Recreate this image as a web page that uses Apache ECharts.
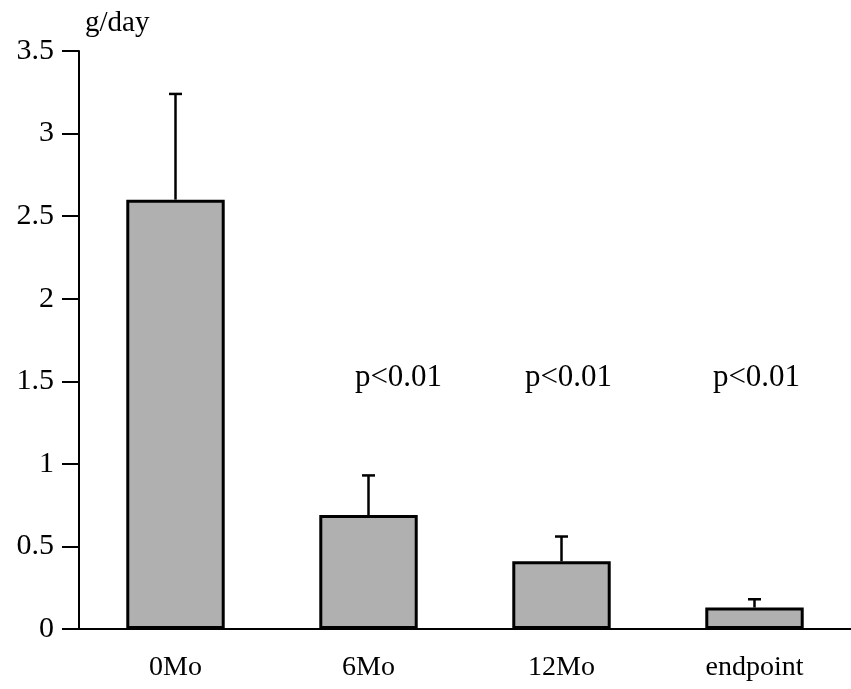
<!DOCTYPE html>
<html>
<head>
<meta charset="utf-8">
<script src="https://cdn.jsdelivr.net/npm/echarts@6/dist/echarts.min.js"></script>
<style>html,body{margin:0;padding:0;background:#fff}#c{width:851px;height:689px}</style>
</head>
<body>
<div id="c"></div>
<script>
const categories = ['0Mo', '6Mo', '12Mo', 'endpoint'];
const means = [2.6, 0.69, 0.41, 0.13];
const errorTops = [3.24, 0.93, 0.56, 0.18];
const pLabels = ['', 'p<0.01', 'p<0.01', 'p<0.01'];
const pLabelY = [null, 1.52, 1.52, 1.52];
const yTicks = { min: 0, max: 3.5, interval: 0.5 };

const pOffsets = [0, 30, 7, 2];
const font = 'Liberation Serif';

const chart = echarts.init(document.getElementById('c'), null, { renderer: 'canvas' });
chart.setOption({
  animation: false,
  backgroundColor: '#fff',
  grid: { left: 79, right: 0, top: 51, bottom: 60 },
  xAxis: {
    type: 'category',
    data: categories,
    boundaryGap: true,
    axisLine: { lineStyle: { color: '#000', width: 2 } },
    axisTick: { length: 18, lineStyle: { color: '#000', width: 2 } },
    axisLabel: { color: '#000', fontFamily: font, fontSize: 28, margin: 25 }
  },
  yAxis: {
    type: 'value',
    min: yTicks.min, max: yTicks.max, interval: yTicks.interval,
    name: 'g/day',
    nameLocation: 'end',
    nameGap: 13,
    nameTextStyle: { color: '#000', fontFamily: font, fontSize: 29, align: 'left', padding: [0, 0, 0, 6] },
    axisLine: { show: true, lineStyle: { color: '#000', width: 2 } },
    axisTick: { show: true, length: 17, lineStyle: { color: '#000', width: 2 } },
    axisLabel: { color: '#000', fontFamily: font, fontSize: 30, margin: 25 },
    splitLine: { show: false }
  },
  series: [
    {
      type: 'bar',
      data: means,
      barWidth: '51%',
      itemStyle: { color: '#b0b0b0', borderColor: '#000', borderWidth: 3 },
      z: 2
    },
    {
      type: 'custom',
      data: categories.map((c, i) => [i, means[i], errorTops[i]]),
      renderItem: function (params, api) {
        const base = api.coord([api.value(0), api.value(1)]);
        const top = api.coord([api.value(0), api.value(2)]);
        const hw = 6.5;
        return {
          type: 'group',
          children: [
            { type: 'line', shape: { x1: base[0], y1: base[1], x2: top[0], y2: top[1] }, style: { stroke: '#000', lineWidth: 2.5 } },
            { type: 'line', shape: { x1: top[0] - hw, y1: top[1], x2: top[0] + hw, y2: top[1] }, style: { stroke: '#000', lineWidth: 2.5 } }
          ]
        };
      },
      z: 3
    },
    {
      type: 'custom',
      data: categories.map((c, i) => [i, pLabelY[i] === null ? 0 : pLabelY[i]]),
      renderItem: function (params, api) {
        const i = params.dataIndex;
        if (!pLabels[i]) return null;
        const p = api.coord([api.value(0), api.value(1)]);
        return {
          type: 'text',
          x: p[0] + pOffsets[i],
          y: p[1],
          style: { text: pLabels[i], fill: '#000', font: '31px "Liberation Serif"', align: 'center', verticalAlign: 'middle' }
        };
      },
      z: 4
    }
  ]
});
</script>
</body>
</html>
